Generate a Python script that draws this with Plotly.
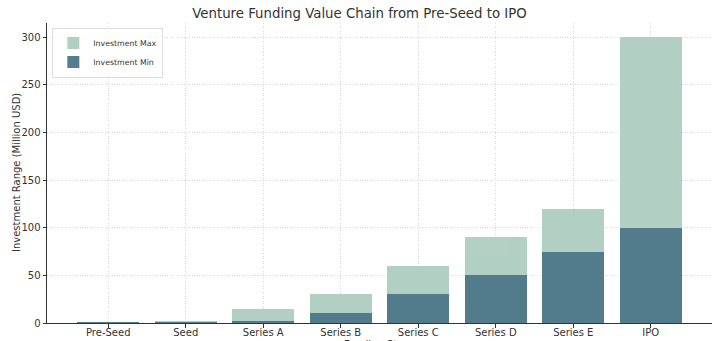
import plotly.graph_objects as go

stages = ["Pre-Seed", "Seed", "Series A", "Series B", "Series C", "Series D", "Series E", "IPO"]
invest_max = [0.1, 2, 15, 30, 60, 90, 120, 300]
invest_min = [0.05, 0.5, 2, 10, 30, 50, 75, 100]

font = "DejaVu Sans"
fig = go.Figure()
fig.add_trace(go.Bar(x=list(range(len(stages))), y=invest_max, name="Investment Max",
                     marker=dict(color="#aecdc0", line=dict(width=0)), opacity=0.95, width=0.8))
fig.add_trace(go.Bar(x=list(range(len(stages))), y=invest_min, name="Investment Min",
                     marker=dict(color="#4f7a8a", line=dict(width=0)), opacity=0.97, width=0.8))

fig.update_layout(
    width=719, height=341, barmode="overlay",
    margin=dict(l=47, r=7, t=23, b=18, autoexpand=False),
    paper_bgcolor="white", plot_bgcolor="white",
    font=dict(family=font, size=10, color="#333333"),
    title=dict(text="Venture Funding Value Chain from Pre-Seed to IPO", x=0.5, xanchor="center",
               y=0.975, yanchor="top", font=dict(size=13.3, color="#333333")),
    showlegend=True,
    legend=dict(x=0.008, y=0.985, xanchor="left", yanchor="top", bgcolor="rgba(255,255,255,0.8)",
                bordercolor="#dddddd", borderwidth=1, font=dict(size=7.8, color="#333333"),
                itemwidth=30, tracegroupgap=0, traceorder="normal"),
    bargap=0,
    annotations=[
        dict(text="Funding Stage", xref="paper", yref="paper", x=0.5, y=0, xanchor="center",
             yanchor="top", yshift=-14, showarrow=False, font=dict(size=10, color="#333333")),
        dict(text="Investment Range (Million USD)", xref="paper", yref="paper", x=0, y=0.5,
             xanchor="center", yanchor="middle", xshift=-31, textangle=-90, showarrow=False,
             font=dict(size=10, color="#333333")),
    ],
)
fig.update_xaxes(
    tickmode="array", tickvals=list(range(len(stages))), ticktext=stages,
    range=[-0.79, 7.79], showline=True, linecolor="#333333", linewidth=1,
    ticks="outside", ticklen=3.5, tickcolor="#333333", ticklabelstandoff=-4,
    showgrid=True, gridcolor="#d9d9d9", griddash="1px,1.5px", gridwidth=0.8,
    zeroline=False, automargin=False,
)
fig.update_yaxes(
    range=[0, 315], tickvals=[0, 50, 100, 150, 200, 250, 300],
    showline=True, linecolor="#333333", linewidth=1,
    ticks="outside", ticklen=3.5, tickcolor="#333333",
    showgrid=True, gridcolor="#d9d9d9", griddash="1px,1.5px", gridwidth=0.8,
    zeroline=False, automargin=False,
)
fig.write_html("out.html")
